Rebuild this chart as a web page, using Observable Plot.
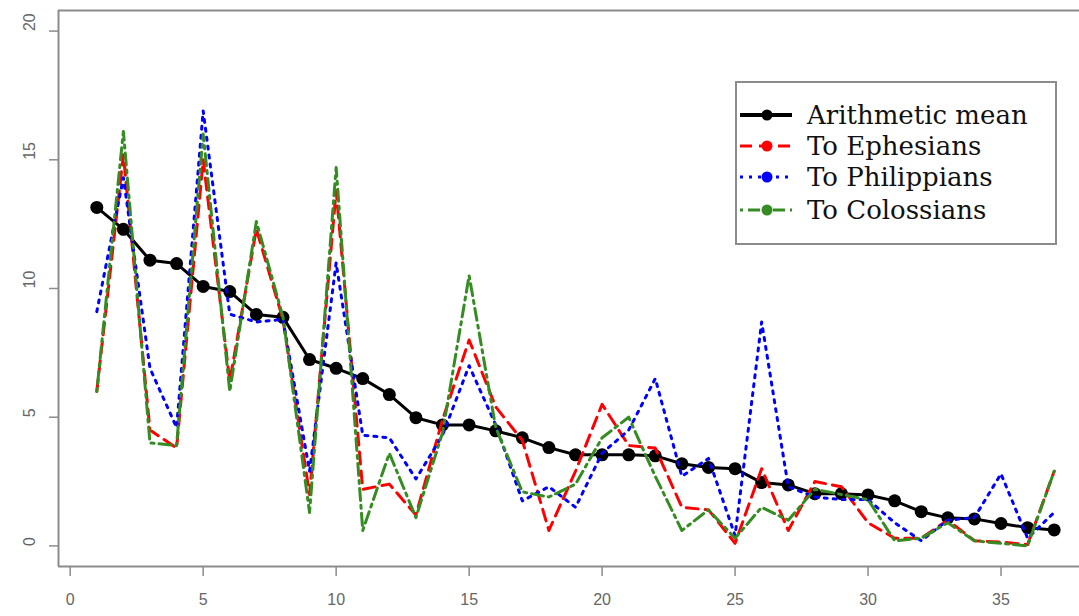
<!DOCTYPE html>
<html><head><meta charset="utf-8">
<script src="https://cdn.jsdelivr.net/npm/d3@7"></script>
<script src="https://cdn.jsdelivr.net/npm/@observablehq/plot@0.6"></script>
<style>
html,body{margin:0;padding:0;background:#fff;overflow:hidden;}
#wrap{position:relative;width:1079px;height:616px;}
#legend{position:absolute;left:735px;top:81px;}
</style></head><body><div id="wrap"></div>
<script>
const chapterIndex = [1,2,3,4,5,6,7,8,9,10,11,12,13,14,15,16,17,18,19,20,21,22,23,24,25,26,27,28,29,30,31,32,33,34,35,36,37];
const meanValues = [13.15,12.3,11.1,10.97,10.08,9.88,8.99,8.88,7.24,6.9,6.5,5.88,4.98,4.7,4.7,4.47,4.2,3.82,3.54,3.54,3.54,3.5,3.19,3.05,3.0,2.46,2.37,2.03,2.03,1.98,1.75,1.33,1.09,1.05,0.87,0.71,0.62];
const ephesiansValues = [6.0,15.2,4.5,3.8,15.0,6.4,12.3,8.8,2.0,13.8,2.2,2.4,1.2,4.9,8.0,5.4,4.1,0.6,2.9,5.5,3.9,3.8,1.5,1.4,0.1,3.0,0.6,2.5,2.3,0.9,0.3,0.3,1.0,0.2,0.15,0.05,2.9];
const philippiansValues = [9.1,14.3,6.9,4.6,16.9,9.0,8.7,8.8,2.9,11.0,4.3,4.2,2.6,4.3,7.0,4.7,1.75,2.3,1.5,3.6,4.5,6.5,2.7,3.4,0.4,8.7,2.3,1.9,1.8,1.8,0.9,0.2,1.0,1.1,2.8,0.3,1.3];
const colossiansValues = [6.0,16.1,4.0,3.9,16.0,6.0,12.6,8.9,1.3,14.7,0.6,3.6,1.1,4.4,10.5,4.6,2.1,1.9,2.4,4.2,5.0,2.7,0.6,1.4,0.3,1.5,1.0,2.2,2.0,1.8,0.2,0.3,0.9,0.2,0.1,0.0,2.9];
const seriesNames = ["Arithmetic mean","To Ephesians","To Philippians","To Colossians"];
const seriesColors = ["#000000","#ff0000","#0000ff","#348c22"];
const seriesDash = [null,"12,7","3,6","3,5,12,5"];
const xTicks = [0,5,10,15,20,25,30,35];
const yTicks = [0,5,10,15,20];
const xDomain = [-0.44, 38.44];
const yDomain = [-0.8, 20.8];

const rows = (name, vals) => vals.map((v,i)=>({x: chapterIndex[i], y: v, series: name}));
const meanRows = rows(seriesNames[0], meanValues);
const ephRows = rows(seriesNames[1], ephesiansValues);
const phiRows = rows(seriesNames[2], philippiansValues);
const colRows = rows(seriesNames[3], colossiansValues);

const frameColor = "#8c8c8c";
const labelColor = "#666";

const plot = Plot.plot({
  width: 1079, height: 616,
  marginLeft: 58, marginRight: 0, marginTop: 10, marginBottom: 50,
  x: {domain: xDomain, range: [58, 1092], label: null},
  y: {domain: yDomain, range: [566, 10], label: null},
  style: {background: "white", overflow: "hidden"},
  marks: [
    Plot.ruleY([yDomain[0], yDomain[1]], {stroke: frameColor, strokeWidth: 2}),
    Plot.ruleX([xDomain[0]], {stroke: frameColor, strokeWidth: 2}),
    Plot.axisX({ticks: xTicks, tickSize: 10, tickPadding: 17, fontSize: 16, color: labelColor, stroke: frameColor, strokeWidth: 1.5, fontFamily: "Liberation Sans", label: null}),
    Plot.axisY({ticks: yTicks, tickSize: 9, tickFormat: () => "", stroke: frameColor, strokeWidth: 1.5, label: null}),
    Plot.text(yTicks, {y: d => d, text: d => String(d), frameAnchor: "left", dx: -29, rotate: -90, fontSize: 16, fill: labelColor, fontFamily: "Liberation Sans"}),
    Plot.line(meanRows, {x: "x", y: "y", stroke: seriesColors[0], strokeWidth: 3}),
    Plot.dot(meanRows, {x: "x", y: "y", r: 6.5, fill: seriesColors[0], stroke: "none"}),
    Plot.line(ephRows, {x: "x", y: "y", stroke: seriesColors[1], strokeWidth: 3, strokeDasharray: seriesDash[1]}),
    Plot.line(phiRows, {x: "x", y: "y", stroke: seriesColors[2], strokeWidth: 3, strokeDasharray: seriesDash[2]}),
    Plot.line(colRows, {x: "x", y: "y", stroke: seriesColors[3], strokeWidth: 3, strokeDasharray: seriesDash[3]})
  ]
});
document.getElementById("wrap").appendChild(plot);

// legend
const lw = 322, lh = 164, rowY = [34, 65, 96, 129];
const leg = d3.select("#wrap").append("svg").attr("id","legend").attr("width", lw).attr("height", lh);
leg.append("rect").attr("x",1).attr("y",1).attr("width",lw-2).attr("height",lh-2)
  .attr("fill","white").attr("stroke",frameColor).attr("stroke-width",2);
seriesNames.forEach((name, i) => {
  const g = leg.append("g").attr("transform", `translate(0,${rowY[i]})`);
  const ln = g.append("line").attr("x1",5).attr("x2",57).attr("y1",0).attr("y2",0)
    .attr("stroke", seriesColors[i]).attr("stroke-width", i === 0 ? 4 : 3);
  if (seriesDash[i]) ln.attr("stroke-dasharray", seriesDash[i]);
  g.append("circle").attr("cx",32).attr("cy",0).attr("r",5.5).attr("fill",seriesColors[i]);
  g.append("text").attr("x",72).attr("y",0).attr("dy","0.36em")
    .attr("font-family","DejaVu Serif").attr("font-size",26).attr("fill","#111").text(name);
});
</script></body></html>
